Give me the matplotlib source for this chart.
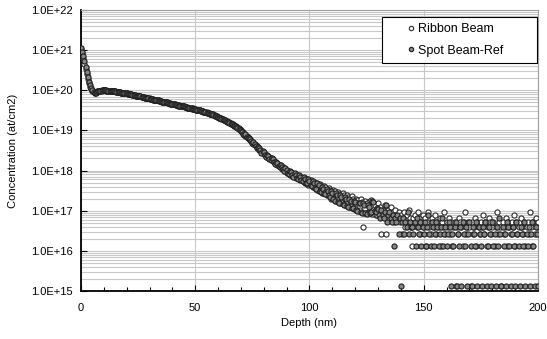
import numpy as np
import matplotlib
matplotlib.use('Agg')
import matplotlib.pyplot as plt
from matplotlib.ticker import LogLocator, MultipleLocator, NullFormatter, FixedLocator

plt.rcParams['font.family'] = ['Liberation Sans', 'DejaVu Sans']

# depth grid (nm), 0.5 nm steps
depth = np.arange(0, 200.25, 0.5)

# log10 concentration (at/cm2), one row = 5 nm
ribbon_log = [
    21.02, 20.92, 20.80, 20.66, 20.52, 20.40, 20.27, 20.17, 20.09, 20.02,
    19.98, 19.95, 19.94, 19.95, 19.97, 19.98, 19.99, 19.99, 20.00, 20.00,
    20.00, 20.00, 19.99, 19.99, 19.99, 19.98, 19.98, 19.98, 19.97, 19.97,
    19.97, 19.96, 19.96, 19.96, 19.95, 19.94, 19.94, 19.93, 19.93, 19.92,
    19.92, 19.91, 19.91, 19.90, 19.90, 19.89, 19.89, 19.88, 19.87, 19.86,
    19.86, 19.85, 19.85, 19.84, 19.84, 19.83, 19.82, 19.81, 19.81, 19.80,
    19.80, 19.79, 19.79, 19.78, 19.77, 19.76, 19.76, 19.75, 19.75, 19.74,
    19.73, 19.72, 19.72, 19.71, 19.71, 19.70, 19.69, 19.68, 19.68, 19.67,
    19.66, 19.65, 19.65, 19.64, 19.64, 19.63, 19.63, 19.62, 19.61, 19.60,
    19.60, 19.59, 19.59, 19.58, 19.57, 19.56, 19.56, 19.55, 19.55, 19.54,
    19.53, 19.52, 19.52, 19.51, 19.50, 19.49, 19.49, 19.48, 19.47, 19.46,
    19.45, 19.44, 19.43, 19.42, 19.42, 19.41, 19.40, 19.38, 19.37, 19.35,
    19.34, 19.32, 19.31, 19.30, 19.29, 19.27, 19.26, 19.24, 19.23, 19.21,
    19.20, 19.18, 19.17, 19.15, 19.14, 19.12, 19.10, 19.08, 19.05, 19.03,
    19.00, 18.97, 18.95, 18.90, 18.87, 18.86, 18.83, 18.78, 18.75, 18.74,
    18.71, 18.66, 18.64, 18.63, 18.60, 18.55, 18.52, 18.51, 18.49, 18.44,
    18.42, 18.42, 18.40, 18.35, 18.32, 18.33, 18.31, 18.26, 18.23, 18.24,
    18.22, 18.16, 18.13, 18.15, 18.14, 18.08, 18.05, 18.08, 18.05, 17.98,
    17.95, 17.99, 17.97, 17.90, 17.88, 17.94, 17.92, 17.84, 17.82, 17.90,
    17.87, 17.78, 17.76, 17.85, 17.82, 17.72, 17.70, 17.80, 17.78, 17.65,
    17.66, 17.76, 17.72, 17.60, 17.58, 17.70, 17.68, 17.52, 17.50, 17.66,
    17.62, 17.45, 17.45, 17.62, 17.58, 17.40, 17.38, 17.56, 17.52, 17.30,
    17.32, 17.52, 17.48, 17.25, 17.28, 17.46, 17.42, 17.20, 17.22, 17.43,
    17.38, 17.15, 17.18, 17.40, 17.33, 17.10, 17.12, 17.36, 17.30, 17.05,
    17.08, 17.30, 17.26, 17.00, 17.02, 17.28, 17.22, 16.60, 16.95, 17.25,
    17.18, 16.97, 16.98, 17.23, 17.26, 16.93, 17.03, 17.15, 16.90, 16.90,
    17.20, 16.97, 17.10, 16.43, 17.03, 16.90, 17.15, 16.43, 16.97, 17.03,
    16.82, 17.10, 16.90, 16.97, 16.72, 17.03, 16.90, 16.82, 16.97, 16.72,
    16.90, 16.42, 16.82, 16.97, 16.60, 16.90, 16.72, 17.03, 16.82, 16.60,
    16.12, 16.82, 16.90, 16.72, 16.60, 16.97, 16.82, 16.42, 16.72, 16.90,
    16.60, 16.82, 16.12, 16.72, 16.97, 16.60, 16.42, 16.82, 16.72, 16.60,
    16.90, 16.42, 16.72, 16.60, 16.82, 16.12, 16.72, 16.60, 16.97, 16.42,
    16.72, 16.60, 16.82, 16.42, 16.72, 16.12, 16.60, 16.72, 15.13, 16.60,
    16.42, 16.82, 16.72, 16.60, 16.12, 16.72, 16.97, 16.42, 16.60, 16.72,
    16.60, 15.13, 16.72, 16.42, 16.60, 16.82, 16.12, 16.72, 16.60, 16.42,
    16.72, 16.60, 16.90, 16.42, 16.72, 16.12, 16.60, 16.82, 16.72, 16.42,
    16.60, 16.72, 16.12, 16.60, 16.97, 16.42, 16.72, 16.60, 15.13, 16.72,
    16.42, 16.60, 16.82, 16.12, 16.72, 16.60, 16.42, 16.72, 16.60, 16.90,
    16.12, 16.72, 16.42, 16.60, 16.72, 16.82, 16.60, 16.42, 16.72, 16.12,
    16.60, 16.72, 16.42, 16.97, 16.60, 16.12, 16.72, 16.42, 16.82, 16.60,
    16.72,
]

spot_log = [
    21.05, 20.95, 20.85, 20.72, 20.58, 20.45, 20.32, 20.21, 20.12, 20.05,
    20.00, 19.96, 19.94, 19.94, 19.96, 19.97, 19.98, 19.99, 19.99, 20.00,
    20.00, 20.00, 20.00, 19.99, 19.99, 19.98, 19.98, 19.97, 19.98, 19.97,
    19.97, 19.96, 19.96, 19.95, 19.95, 19.94, 19.94, 19.93, 19.93, 19.92,
    19.92, 19.91, 19.91, 19.90, 19.90, 19.89, 19.88, 19.88, 19.87, 19.86,
    19.86, 19.85, 19.85, 19.84, 19.83, 19.83, 19.82, 19.81, 19.81, 19.80,
    19.79, 19.79, 19.78, 19.77, 19.77, 19.76, 19.76, 19.75, 19.74, 19.73,
    19.73, 19.72, 19.72, 19.71, 19.70, 19.70, 19.69, 19.68, 19.67, 19.66,
    19.66, 19.65, 19.65, 19.64, 19.63, 19.62, 19.62, 19.61, 19.61, 19.60,
    19.60, 19.59, 19.58, 19.57, 19.57, 19.56, 19.55, 19.54, 19.54, 19.53,
    19.53, 19.52, 19.51, 19.50, 19.50, 19.49, 19.48, 19.47, 19.46, 19.45,
    19.44, 19.43, 19.43, 19.42, 19.41, 19.40, 19.39, 19.37, 19.36, 19.34,
    19.33, 19.31, 19.30, 19.29, 19.28, 19.26, 19.25, 19.23, 19.22, 19.20,
    19.19, 19.17, 19.16, 19.14, 19.12, 19.10, 19.08, 19.06, 19.03, 19.00,
    18.98, 18.96, 18.92, 18.89, 18.90, 18.84, 18.80, 18.81, 18.79, 18.73,
    18.68, 18.70, 18.67, 18.61, 18.56, 18.59, 18.56, 18.50, 18.45, 18.48,
    18.46, 18.40, 18.35, 18.39, 18.37, 18.30, 18.27, 18.31, 18.28, 18.21,
    18.17, 18.22, 18.19, 18.12, 18.09, 18.14, 18.10, 18.04, 18.00, 18.06,
    18.02, 17.94, 17.91, 17.99, 17.96, 17.88, 17.85, 17.93, 17.90, 17.81,
    17.79, 17.88, 17.85, 17.76, 17.73, 17.83, 17.80, 17.70, 17.68, 17.78,
    17.74, 17.64, 17.62, 17.73, 17.70, 17.56, 17.55, 17.68, 17.64, 17.50,
    17.47, 17.60, 17.55, 17.44, 17.42, 17.55, 17.50, 17.38, 17.35, 17.50,
    17.45, 17.28, 17.25, 17.44, 17.40, 17.22, 17.20, 17.40, 17.35, 17.16,
    17.15, 17.33, 17.30, 17.12, 17.10, 17.28, 17.24, 17.08, 17.06, 17.25,
    17.22, 17.02, 17.00, 17.20, 17.18, 16.97, 16.95, 17.18, 17.15, 16.95,
    16.93, 17.13, 17.10, 16.95, 16.98, 17.25, 17.22, 17.00, 16.97, 17.08,
    17.05, 16.90, 16.82, 17.03, 16.90, 16.82, 16.97, 17.15, 16.72, 16.90,
    16.97, 16.82, 16.72, 16.90, 16.12, 16.82, 16.72, 16.90, 16.42, 16.82,
    15.13, 16.72, 16.82, 16.42, 16.72, 16.60, 16.97, 16.42, 16.72, 16.60,
    16.60, 16.42, 16.72, 16.12, 16.82, 16.60, 16.42, 16.72, 16.12, 16.60,
    16.42, 16.72, 16.12, 16.60, 16.90, 16.42, 16.12, 16.72, 16.60, 16.12,
    16.42, 16.72, 16.60, 16.12, 16.42, 16.60, 16.82, 16.12, 16.42, 16.60,
    16.12, 16.42, 16.72, 16.60, 15.13, 16.42, 16.12, 16.60, 16.72, 15.13,
    16.42, 16.12, 16.60, 15.13, 16.72, 16.42, 16.12, 16.60, 15.13, 16.42,
    16.72, 16.12, 15.13, 16.60, 16.42, 16.12, 16.72, 15.13, 16.60, 16.42,
    16.12, 15.13, 16.60, 16.42, 16.72, 15.13, 16.12, 16.60, 16.42, 15.13,
    16.72, 16.12, 16.42, 15.13, 16.60, 16.12, 16.82, 16.42, 15.13, 16.60,
    16.12, 16.42, 15.13, 16.72, 16.60, 16.12, 15.13, 16.42, 16.60, 16.12,
    15.13, 16.72, 16.42, 16.12, 15.13, 16.60, 16.42, 16.12, 16.72, 15.13,
    16.42, 16.12, 16.60, 15.13, 16.42, 16.72, 16.12, 15.13, 16.60, 16.42,
    15.13,
]

ribbon_conc = 10 ** np.array(ribbon_log)
spot_conc = 10 ** np.array(spot_log)

ytick_vals = [1e15, 1e16, 1e17, 1e18, 1e19, 1e20, 1e21, 1e22]
ytick_labels = ['1.0E+15', '1.0E+16', '1.0E+17', '1.0E+18',
                '1.0E+19', '1.0E+20', '1.0E+21', '1.0E+22']

fig = plt.figure(figsize=(5.47, 3.39), dpi=100)
ax = fig.add_axes([0.148, 0.1416, 0.8355, 0.8289])

ax.plot(depth, ribbon_conc, 'o', ms=3.7, mfc='white', mec='#2a2a2a', mew=0.8,
        label='Ribbon Beam', zorder=3)
ax.plot(depth, spot_conc, 'o', ms=3.7, mfc='#858585', mec='#1e1e1e', mew=0.8,
        label='Spot Beam-Ref', zorder=3)

ax.set_yscale('log')
ax.set_xlim(0, 200)
ax.set_ylim(1e15, 1e22)

ax.yaxis.set_major_locator(FixedLocator(ytick_vals))
ax.set_yticklabels(ytick_labels)
ax.yaxis.set_minor_locator(LogLocator(base=10, subs=np.arange(2, 10), numticks=20))
ax.yaxis.set_minor_formatter(NullFormatter())
ax.xaxis.set_major_locator(MultipleLocator(50))
ax.xaxis.set_minor_locator(MultipleLocator(10))

ax.grid(True, which='major', axis='both', color='#c8c8c8', lw=0.8, zorder=0)
ax.grid(True, which='minor', axis='y', color='#c8c8c8', lw=0.8, zorder=0)
ax.set_axisbelow(True)

ax.tick_params(axis='both', which='major', direction='in', length=4, width=0.8,
               labelsize=8)
ax.tick_params(axis='x', which='major', pad=9)
ax.tick_params(axis='y', which='major', pad=6)
ax.tick_params(axis='x', which='minor', direction='in', length=3, width=0.8)
ax.tick_params(axis='y', which='minor', length=0)

for side in ['left', 'bottom']:
    ax.spines[side].set_color('black')
    ax.spines[side].set_linewidth(1.3)
for side in ['top', 'right']:
    ax.spines[side].set_color('#a0a0a0')
    ax.spines[side].set_linewidth(0.8)

ax.set_xlabel('Depth (nm)', fontsize=8, labelpad=3)
ax.set_ylabel('Concentration (at/cm2)', fontsize=8, labelpad=9)

leg = ax.legend(loc='upper left', bbox_to_anchor=(0.659, 0.5, 0.339, 0.475),
                mode='expand', borderaxespad=0, fontsize=9, markerscale=0.85,
                handlelength=3.6, handletextpad=-1.24, labelspacing=0.75,
                borderpad=0.5, fancybox=False, framealpha=1, edgecolor='black')
leg.get_frame().set_linewidth(0.8)

fig.savefig('out.png', dpi=100)
